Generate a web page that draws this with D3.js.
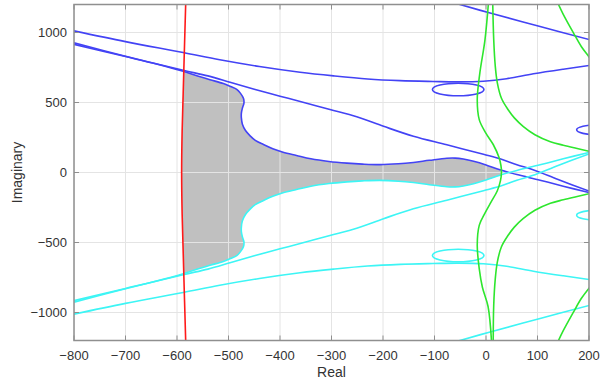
<!DOCTYPE html>
<html>
<head>
<meta charset="utf-8">
<script src="https://cdn.jsdelivr.net/npm/d3@7/dist/d3.min.js"></script>
<style>
body { margin: 0; background: #fff; }
text { font-family: "Liberation Sans", Arial, sans-serif; fill: #333; }
</style>
</head>
<body>
<script>
// axis ticks
var xTicks = [-800, -700, -600, -500, -400, -300, -200, -100, 0, 100, 200];
var yTicks = [-1000, -500, 0, 500, 1000];

// root locus branches, [real, imag]
var redLine = [[-583,1220],[-587,700],[-590,300],[-591,0],[-590,-300],[-587,-700],[-583,-1220]];

var blueTop = [[-800,1012],[-700,935],[-588,857],[-517,805],[-440,757],[-361,716],[-296,690],[-230,668],
    [-167,656],[-103,650],[-54,647],[-5,652],[40,670],[92,705],[150,738],[200,764]];
var blueUpper = [[-72,1222],[-60,1210],[8,1139],[105,1043],[202,948]];
var blueS = [[-800,915],[-700,828],[-640,775],[-588,723],[-560,690],[-536,663],[-510,635],[-496,614],
    [-484,594],[-477,567],[-471,530],[-470,496],[-473,460],[-475,424],[-475,390],[-473,345],[-467,300],
    [-458,262],[-448,230],[-432,200],[-414,170],[-394,145],[-368,122],[-340,98],[-305,79],[-270,67],
    [-240,60],[-206,56],[-170,62],[-141,72],[-110,87],[-76,102],[-60,103],[-44,96],[-24,80],[0,54],[27,19],
    [60,-15],[105,-55],[150,-98],[200,-143]];
var blueStraight = [[-800,926],[-700,830],[-588,730],[-540,690],[-497,645],[-450,595],[-400,545],[-350,497],
    [-303,450],[-251,398],[-199,330],[-141,259],[-76,198],[-5,130],[30,95],[60,55],[90,22],[140,-50],[200,-133]];

var cyanBottom = [[-800,-1012],[-700,-935],[-588,-857],[-517,-805],[-440,-757],[-361,-716],[-296,-690],[-230,-668],
    [-167,-656],[-103,-650],[-54,-647],[-5,-652],[40,-670],[92,-705],[150,-738],[200,-764]];
var cyanLower = [[-72,-1222],[-60,-1210],[8,-1139],[105,-1043],[202,-948]];
var cyanS = [[-800,-915],[-700,-828],[-640,-775],[-588,-723],[-560,-690],[-536,-663],[-510,-635],[-496,-614],
    [-484,-594],[-477,-567],[-471,-530],[-470,-496],[-473,-460],[-475,-424],[-475,-390],[-473,-345],[-467,-300],
    [-458,-262],[-448,-230],[-432,-200],[-414,-170],[-394,-145],[-368,-122],[-340,-98],[-305,-79],[-270,-67],
    [-240,-60],[-206,-56],[-170,-62],[-141,-72],[-110,-87],[-76,-102],[-60,-103],[-44,-96],[-24,-80],[0,-54],[27,-19],
    [60,15],[105,55],[150,98],[200,143]];
var cyanStraight = [[-800,-926],[-700,-830],[-588,-730],[-540,-690],[-497,-645],[-450,-595],[-400,-545],[-350,-497],
    [-303,-450],[-251,-398],[-199,-330],[-141,-259],[-76,-198],[-5,-130],[30,-95],[60,-55],[90,-22],[140,50],[200,133]];

var green1 = [[5,1222],[-2,948],[-12,710],[-17,519],[-13,376],[0,280],[14,200],[25,110],[29,50],[30,0],
    [28,-60],[22,-130],[10,-210],[-2,-290],[-13,-376],[-17,-519],[-13,-690],[-7,-820],[4,-957],[11,-1222]];
var green2 = [[13,1222],[15,948],[18,760],[22,640],[30,530],[43,448],[55,390],[72,330],[95,270],
    [125,220],[150,195],[175,173],[200,152]];
var green3 = [[138,1222],[150,1130],[170,996],[185,900],[202,817]];
var green4 = [[14,-1222],[15,-948],[18,-760],[22,-640],[30,-530],[43,-448],[55,-390],[72,-330],[95,-270],
    [125,-220],[150,-195],[175,-173],[200,-152]];
var green5 = [[138,-1222],[150,-1130],[170,-996],[185,-900],[202,-817]];

// small closed loops: [centre real, centre imag, half width, half height]
var blueLoops = [[-54,593,50,45],[218,305,42,36]];
var cyanLoops = [[-54,-593,50,45],[218,-305,42,36]];

// layout
var W = 613, H = 386;
var padL = 74, padR = 589, padT = 4.5, padB = 340.5;

var x = d3.scaleLinear().domain([-800,200]).range([padL,padR]);
var y = d3.scaleLinear().domain([-1200,1200]).range([padB,padT]);

var svg = d3.select("body").append("svg").attr("width",W).attr("height",H);

svg.append("clipPath").attr("id","plotclip")
    .append("rect").attr("x",padL).attr("y",padT).attr("width",padR-padL).attr("height",padB-padT);

var line = d3.line().x(d => x(d[0])).y(d => y(d[1])).curve(d3.curveCatmullRom.alpha(0.5));

var plot = svg.append("g").attr("clip-path","url(#plotclip)");

// stable region: between the two S branches, right of the red branch, left of the green one
function drawRegion()
{
    let redX = -588
    let upper = blueS.filter(p => p[0] >= redX && p[0] <= 27)
    let lower = cyanS.filter(p => p[0] >= redX && p[0] <= 27).reverse()
    let tip = green1.filter(p => Math.abs(p[1]) < 10)
    let side = redLine.filter(p => Math.abs(p[1]) < 720).reverse()

    let d = line(upper) + "L" + x(tip[0][0]) + "," + y(tip[0][1]) +
        line(lower).replace(/^M/,"L") + line(side).replace(/^M/,"L") + "Z"

    plot.append("path").attr("d",d).attr("fill","#c0c0c0").attr("stroke","none")
}

function drawGrid()
{
    let g = plot.append("g").attr("stroke","#e4e4e4").attr("stroke-width",1)
    xTicks.forEach(t => g.append("line").attr("x1",x(t)).attr("x2",x(t)).attr("y1",padT).attr("y2",padB))
    yTicks.forEach(t => g.append("line").attr("y1",y(t)).attr("y2",y(t)).attr("x1",padL).attr("x2",padR))
}

function drawCurves(list, color)
{
    list.forEach(c => plot.append("path").attr("d",line(c)).attr("fill","none")
        .attr("stroke",color).attr("stroke-width",1.6))
}

function drawLoops(list, color)
{
    list.forEach(e => plot.append("ellipse")
        .attr("cx",x(e[0])).attr("cy",y(e[1]))
        .attr("rx",x(e[0]+e[2])-x(e[0])).attr("ry",y(e[1]-e[3])-y(e[1]))
        .attr("fill","none").attr("stroke",color).attr("stroke-width",1.6))
}

function drawAxes()
{
    let axisColor = "#8f8f8f"
    let tl = 5

    let g = svg.append("g").attr("stroke",axisColor).attr("stroke-width",1)
    xTicks.forEach(t => {
        g.append("line").attr("x1",x(t)).attr("x2",x(t)).attr("y1",padB).attr("y2",padB-tl)
        g.append("line").attr("x1",x(t)).attr("x2",x(t)).attr("y1",padT).attr("y2",padT+tl)
    })
    yTicks.forEach(t => {
        g.append("line").attr("y1",y(t)).attr("y2",y(t)).attr("x1",padL).attr("x2",padL+tl)
        g.append("line").attr("y1",y(t)).attr("y2",y(t)).attr("x1",padR).attr("x2",padR-tl)
    })

    svg.append("rect").attr("x",padL).attr("y",padT).attr("width",padR-padL).attr("height",padB-padT)
        .attr("fill","none").attr("stroke",axisColor).attr("stroke-width",1.5)

    let fmt = d3.format("d")
    svg.selectAll("text.xt").data(xTicks).enter().append("text").attr("class","xt")
        .attr("x",d => x(d)).attr("y",padB+19).attr("text-anchor","middle")
        .style("font-size","13px").text(d => fmt(d))
    svg.selectAll("text.yt").data(yTicks).enter().append("text").attr("class","yt")
        .attr("x",padL-7).attr("y",d => y(d)+4.5).attr("text-anchor","end")
        .style("font-size","13px").text(d => fmt(d))

    svg.append("text").attr("x",(padL+padR)/2).attr("y",377).attr("text-anchor","middle")
        .style("font-size","14px").text("Real")
    svg.append("text").attr("transform","translate(22," + ((padT+padB)/2) + ") rotate(-90)")
        .attr("text-anchor","middle").style("font-size","14px").text("Imaginary")
}

drawRegion()
drawGrid()
drawCurves([blueTop, blueUpper, blueS, blueStraight], "#4343f5")
drawLoops(blueLoops, "#4343f5")
drawCurves([cyanBottom, cyanLower, cyanS, cyanStraight], "#3df5f5")
drawLoops(cyanLoops, "#3df5f5")
drawCurves([green1, green2, green3, green4, green5], "#2ee62e")
drawCurves([redLine], "#ff1a1a")
drawAxes()
</script>
</body>
</html>
